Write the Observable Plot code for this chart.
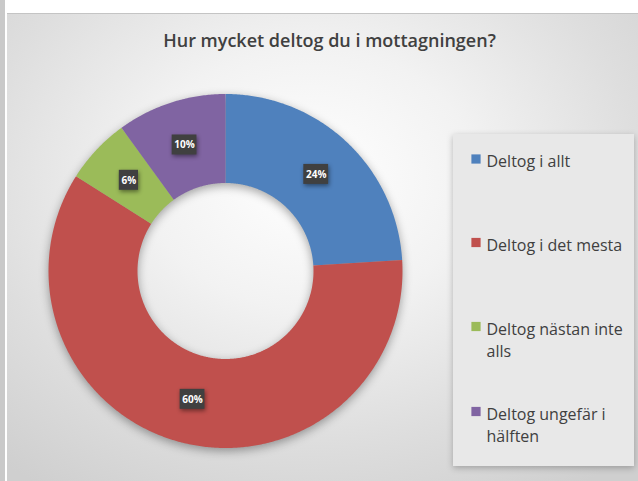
<!DOCTYPE html>
<html><head><meta charset="utf-8">
<script src="https://cdn.jsdelivr.net/npm/d3@7"></script>
<script src="https://cdn.jsdelivr.net/npm/@observablehq/plot@0.6"></script>
<style>
html,body{margin:0;padding:0;background:#fff;}
#wrap{position:relative;width:638px;height:481px;overflow:hidden;background:#fff;}
#strip{position:absolute;left:0;top:0;width:5px;height:481px;background:#c9c9c9;}
#chart{position:absolute;left:7px;top:13px;width:631px;height:468px;border-top:1px solid #c4c4c4;
 background:radial-gradient(ellipse 75% 80% at 48% 35%, #ffffff 0%, #f2f2f2 35%, #dedede 70%, #cfcfcf 100%);}
#chart svg{background:transparent;display:block;}
</style></head>
<body><div id="wrap"><div id="strip"></div><div id="chart"></div></div>
<script>
const title = "Hur mycket deltog du i mottagningen?";
const categories = ["Deltog i allt", "Deltog i det mesta", "Deltog nästan inte alls", "Deltog ungefär i hälften"];
const legendLabels = ["Deltog i allt", "Deltog i det mesta", "Deltog nästan inte\nalls", "Deltog ungefär i\nhälften"];
const shares = [24, 60, 6, 10];
const valueLabels = ["24%", "60%", "6%", "10%"];
const colors = ["#4f81bd", "#c0504d", "#9bbb59", "#8064a2"];

// layout (pixels within the chart svg)
const W = 631, H = 468;
const cx = 218, cy = 256.5, R = 177, r = 88;

const pie = d3.pie().sort(null).value(d => d)(shares);
const pt = (a, rad) => [cx + rad * Math.sin(a), cy - rad * Math.cos(a)];

const slicePts = [];
pie.forEach((p, i) => {
  const n = Math.max(4, Math.ceil((p.endAngle - p.startAngle) / (Math.PI / 360)));
  for (let k = 0; k <= n; k++) {
    const a = p.startAngle + (p.endAngle - p.startAngle) * k / n;
    const [x, y] = pt(a, R); slicePts.push({slice: categories[i], x, y});
  }
  for (let k = n; k >= 0; k--) {
    const a = p.startAngle + (p.endAngle - p.startAngle) * k / n;
    const [x, y] = pt(a, r); slicePts.push({slice: categories[i], x, y});
  }
});

const labels = pie.map((p, i) => {
  const a = (p.startAngle + p.endAngle) / 2;
  const [x, y] = pt(a, (R + r) / 2);
  const w = valueLabels[i].length * 5.6 + 8;
  return {text: valueLabels[i], x, y, w};
});

const legendRows = [144.5, 228, 312, 397];
const legend = categories.map((c, i) => ({cat: c, label: legendLabels[i], y: legendRows[i]}));

const plot = Plot.plot({
  width: W, height: H, margin: 0,
  x: {type: "identity", axis: null}, y: {type: "identity", axis: null},
  color: {domain: categories, range: colors},
  marks: [
    // legend box
    Plot.rect([0], {x1: 446, x2: 627, y1: 120, y2: 452, fill: "#e8e8e8"}),
    // donut slices
    Plot.line(slicePts, {x: "x", y: "y", z: "slice", fill: "slice", stroke: "none"}),
    // data label boxes
    Plot.rect(labels, {x1: d => d.x - d.w / 2, x2: d => d.x + d.w / 2, y1: d => d.y - 10, y2: d => d.y + 10, fill: "#404040"}),
    Plot.text(labels, {x: "x", y: "y", text: "text", fill: "#ffffff", fontSize: 10, fontWeight: "bold", fontFamily: "Open Sans"}),
    // title
    Plot.text([title], {x: 322, y: 27, text: d => d, fontSize: 18, fontWeight: 600, fill: "#404040", fontFamily: "Open Sans"}),
    // legend
    Plot.dot(legend, {x: 468.5, y: "y", symbol: "square", r: 5.2, fill: "cat", stroke: "none"}),
    Plot.text(legend, {x: 479, y: d => d.y - 7.5, text: "label", textAnchor: "start", lineAnchor: "top", lineHeight: 1.4, fontSize: 16, fill: "#404040", fontFamily: "Open Sans"})
  ]
});
document.getElementById("chart").appendChild(plot);
const gs = plot.querySelectorAll(":scope > g");
gs[0].style.filter = "drop-shadow(0px 2px 3px rgba(0,0,0,0.25))";
gs[1].style.filter = "drop-shadow(0px 3px 5px rgba(0,0,0,0.35))";
gs[2].style.filter = "drop-shadow(1px 2px 2px rgba(0,0,0,0.45))";
</script></body></html>
